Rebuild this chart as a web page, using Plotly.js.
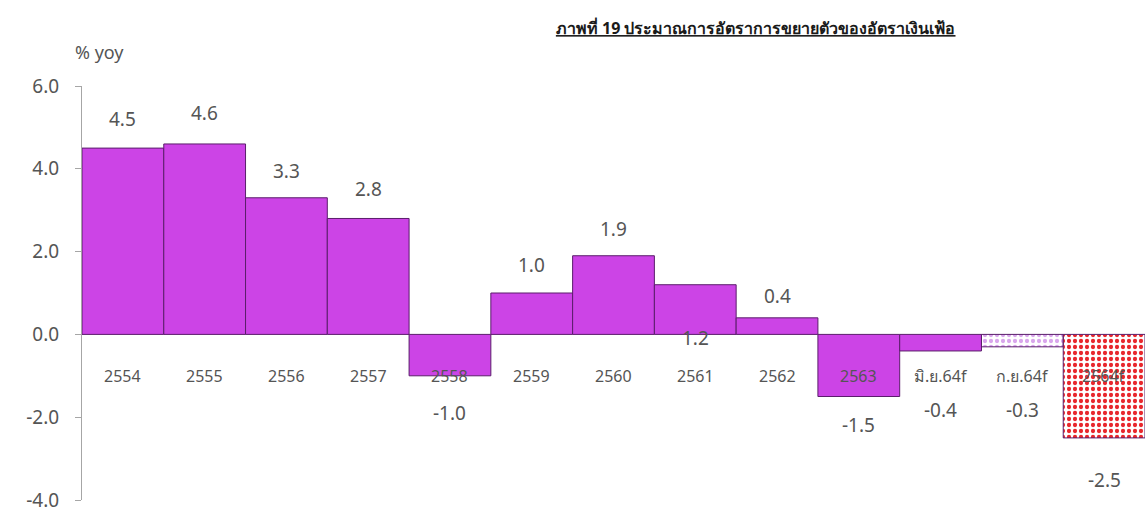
<!DOCTYPE html>
<html><head><meta charset="utf-8">
<script src="https://cdn.plot.ly/plotly-3.0.1.min.js"></script>
<style>html,body{margin:0;padding:0;background:#fff}#chart{width:1145px;height:517px}</style>
</head><body><div id="chart"></div>
<script>
const categories = ["2554","2555","2556","2557","2558","2559","2560","2561","2562","2563","มิ.ย.64f","ก.ย.64f","2564f"];
const inflation = [4.5, 4.6, 3.3, 2.8, -1.0, 1.0, 1.9, 1.2, 0.4, -1.5, -0.4, -0.3, -2.5];
const valueLabels = ["4.5","4.6","3.3","2.8","-1.0","1.0","1.9","1.2","0.4","-1.5","-0.4","-0.3","-2.5"];
const yTicks = [6, 4, 2, 0, -2, -4];
const yTickText = ["6.0","4.0","2.0","0.0","-2.0","-4.0"];

// styling per bar
const purple = '#cc44e6';
const colors = categories.map((c,i)=> i===12 ? '#e8262c' : (i===11 ? '#d9a6ec' : purple));
const shapes = categories.map((c,i)=> i>=11 ? '.' : '');
const fg = categories.map((c,i)=> i>=11 ? '#ffffff' : purple);
const bg = colors;
// label pixel offsets from bar end
const labelShift = [29, 31, 27, 29, -37, 28, 27, -53, 22, -28, -59, -63, -42];

const trace = {
  type: 'bar', x: categories, y: inflation,
  marker: {color: colors, line: {color: '#5a1d6b', width: 1},
    pattern: {shape: shapes, fgcolor: fg, bgcolor: bg, size: 6, solidity: 0.4}},
  hoverinfo: 'x+y'
};

const textFont = 'Noto Sans, Open Sans, sans-serif';
const annotations = [];
categories.forEach((c,i)=>{
  annotations.push({x: i, y: inflation[i], xref:'x', yref:'y', text: valueLabels[i], showarrow:false,
    yshift: labelShift[i], font:{family:textFont, size:19, color:'#555555'}});
  annotations.push({x: i, y: -1, xref:'x', yref:'y', text: c, showarrow:false,
    font:{family:textFont, size:16, color:'#555555'}});
});
annotations.push({x: -0.008, y: 1.083, xref:'paper', yref:'paper', xanchor:'left', yanchor:'middle', text:'% yoy', showarrow:false,
  font:{family:textFont, size:18, color:'#555555'}});

const layout = {
  width: 1145, height: 517,
  margin: {l: 82, r: 0, t: 86, b: 17},
  paper_bgcolor: '#fff', plot_bgcolor: '#fff',
  bargap: 0,
  showlegend: false,
  title: {text: '<b>ภาพที่ 19 ประมาณการอัตราการขยายตัวของอัตราเงินเฟ้อ</b>', x: 0.66, xanchor:'center', y: 0.945, yanchor:'middle',
    font: {family: 'Noto Sans, sans-serif', size: 16, color: '#1a1a1a', lineposition: 'under'}},
  xaxis: {type:'category', range:[-0.5, 12.5], showticklabels:false, showline:false, showgrid:false, zeroline:false, ticks:''},
  yaxis: {range:[-4, 6], tickvals: yTicks, ticktext: yTickText, showline:true, linecolor:'#a6a6a6', linewidth:1,
    ticks:'outside', ticklen:6, tickcolor:'#a6a6a6', showgrid:false, zeroline:false,
    tickfont:{family:textFont, size:19, color:'#555555'}, ticklabelstandoff: 12},
  annotations: annotations
};
Plotly.newPlot('chart', [trace], layout, {displayModeBar:false, staticPlot:true});
</script></body></html>
